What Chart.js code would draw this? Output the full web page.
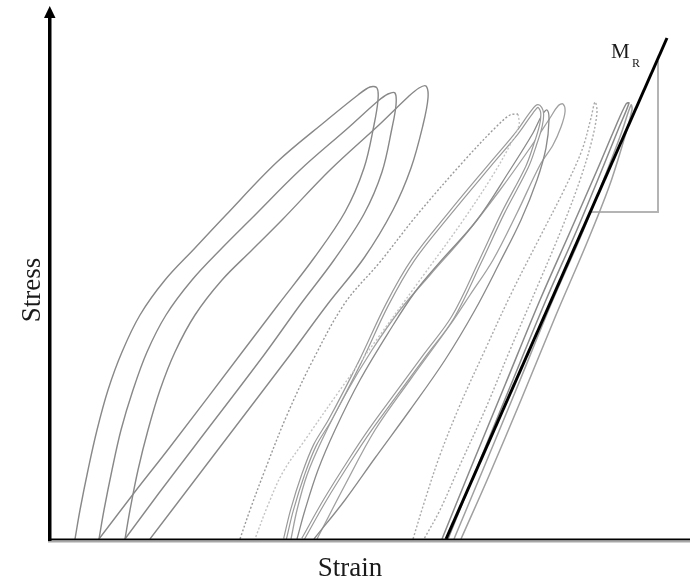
<!DOCTYPE html>
<html>
<head>
<meta charset="utf-8">
<script src="https://cdn.jsdelivr.net/npm/chart.js@4.4.0/dist/chart.umd.min.js"></script>
<style>
  html, body { margin: 0; padding: 0; background: #fff; }
  #wrap { width: 691px; height: 579px; }
</style>
</head>
<body>
<div id="wrap"><canvas id="chart" width="691" height="579"></canvas></div>
<script>
// axis texts
const xLabel = 'Strain';
const yLabel = 'Stress';
const modulusMain = 'M';
const modulusSub = 'R';

// axis ranges (schematic, arbitrary units)
const strainRange = [0, 640];
const stressRange = [0, 534];

// first group: three loops (arch up to the peak, then back down)
const loop1 = [[25,0],[30,29],[38,69],[47,109],[58,149],[72,187],[90,224],[115,259],[145,291],[175,323],[227,377],[277,419],[308,444],[320,452],[327,451],[328,439],[324,414],[314,371],[295,327],[264,281],[228,234],[190,184],[120,92],[84,46],[49,0]];
const loop2 = [[49,0],[54,29],[62,69],[71,109],[83,149],[97,187],[116,224],[142,259],[172,291],[202,321],[250,369],[298,411],[328,438],[338,445],[345,446],[346,434],[342,411],[332,367],[314,325],[284,279],[250,234],[214,184],[144,92],[109,46],[75,0]];
const loop3 = [[75,0],[80,29],[88,69],[98,109],[110,149],[125,187],[145,224],[172,259],[202,289],[232,319],[280,369],[330,415],[358,442],[369,451],[376,453],[378,441],[373,414],[361,371],[343,329],[314,281],[277,234],[240,184],[170,92],[135,46],[100,0]];

// second group
const midArchDotted = [[190,0],[200,29],[215,69],[237,124],[263,179],[295,236],[330,277],[367,324],[413,377],[445,411],[460,424],[468,425]];
const midLineDotted = [[468,425],[469,414],[460,394],[443,364],[412,317],[370,259],[330,204],[290,149],[255,99],[233,67],[218,34],[205,0]];
const midLoopA = [[235,0],[242,29],[253,64],[265,94],[280,119],[310,177],[337,234],[363,279],[400,326],[440,374],[467,406],[482,427],[488,433],[492,427],[491,414],[485,394],[477,372],[453,326],[430,277],[403,222],[375,184],[347,146],[320,109],[300,79],[275,39],[253,0]];
const midLoopB = [[247,0],[255,29],[268,69],[285,109],[310,159],[340,209],[365,247],[390,277],[427,319],[460,369],[483,406],[492,424],[497,429],[499,419],[496,391],[487,359],[471,319],[450,277],[425,229],[395,179],[360,129],[325,81],[295,39],[264,0]];
const midLoopS = [[241,0],[247,29],[257,64],[272,99],[295,144],[322,189],[350,229],[380,264],[415,304],[450,349],[480,391],[500,421],[508,433],[513,435],[515,427],[511,412],[503,394],[490,374],[467,326],[443,279],[420,244],[400,214],[360,159],[325,109],[295,54],[267,0]];

// third group
const rightLoopDotted = [[363,0],[375,39],[390,84],[410,134],[435,189],[462,247],[490,302],[515,351],[532,389],[541,421],[545,437],[547,427],[542,399],[530,359],[512,311],[488,254],[460,189],[435,129],[410,74],[390,29],[374,0]];
const rightLoop1 = [[392,0],[420,69],[455,154],[490,239],[520,307],[548,371],[565,411],[576,435],[579,436],[568,409],[551,367],[526,307],[496,239],[460,152],[426,69],[398,0]];
const rightLoop2 = [[404,0],[432,67],[466,149],[502,237],[531,303],[555,363],[571,405],[581,434],[582,429],[573,396],[559,352],[536,294],[506,224],[471,139],[438,61],[411,0]];
const modulusLine = [[396,0],[617,501]];
const modulusBracket = [[540,327],[608,327],[608,478]];

function pts(arr) {
    return arr.map(p => ({ x: p[0], y: p[1] }));
}

function curve(arr, color, width, dash, order, tension) {
    return {
        data: pts(arr),
        showLine: true,
        borderColor: color,
        borderWidth: width,
        borderDash: dash || [],
        pointRadius: 0,
        tension: tension === undefined ? 0.35 : tension,
        fill: false,
        order: order === undefined ? 1 : order
    };
}

// axes, arrow and labels
const axesPlugin = {
    id: 'axesPlugin',
    afterDatasetsDraw(chart) {
        const { ctx, chartArea: a } = chart;
        ctx.save();
        // horizontal axis (black with a gray shadow under it)
        ctx.fillStyle = '#000';
        ctx.fillRect(48, a.bottom - 0.5, a.right - 48, 2);
        ctx.fillStyle = '#a8a8a8';
        ctx.fillRect(48, a.bottom + 1.5, a.right - 48, 2);
        // vertical axis with arrow
        ctx.fillStyle = '#000';
        ctx.fillRect(a.left - 2, a.top + 10, 3.5, a.bottom - a.top - 8);
        ctx.beginPath();
        ctx.moveTo(a.left - 0.25, a.top + 1);
        ctx.lineTo(a.left - 6, a.top + 13);
        ctx.lineTo(a.left + 5.5, a.top + 13);
        ctx.closePath();
        ctx.fill();

        ctx.fillStyle = '#1a1a1a';
        ctx.font = '27px "Liberation Serif", "Times New Roman", serif';
        ctx.textAlign = 'center';
        ctx.textBaseline = 'alphabetic';
        ctx.fillText(xLabel, 350, 576);

        ctx.save();
        ctx.translate(40, 290);
        ctx.rotate(-Math.PI / 2);
        ctx.fillText(yLabel, 0, 0);
        ctx.restore();

        ctx.textAlign = 'left';
        ctx.font = '21px "Liberation Serif", "Times New Roman", serif';
        ctx.fillText(modulusMain, 611, 58);
        ctx.font = '12px "Liberation Serif", "Times New Roman", serif';
        ctx.fillText(modulusSub, 632, 67);
        ctx.restore();
    }
};

const gray = '#888888';

new Chart(document.getElementById('chart'), {
    type: 'scatter',
    data: {
        datasets: [
            curve(loop1, gray, 1.4),
            curve(loop2, gray, 1.4),
            curve(loop3, gray, 1.4),
            curve(midArchDotted, '#9a9a9a', 1.4, [2, 2]),
            curve(midLineDotted, '#c4c4c4', 1.4, [2, 2]),
            curve(midLoopA, '#9a9a9a', 4),
            curve(midLoopA, '#ffffff', 1.6, [], 0),
            curve(midLoopB, '#8a8a8a', 1.3),
            curve(midLoopS, '#a0a0a0', 1.3),
            curve(rightLoopDotted, '#aaaaaa', 1.4, [2, 2]),
            curve(rightLoop1, '#8a8a8a', 1.5),
            curve(rightLoop2, '#a0a0a0', 1.5),
            curve(modulusBracket, '#b4b4b4', 2, [], 1, 0),
            curve(modulusLine, '#000000', 3, [], 0, 0)
        ]
    },
    options: {
        responsive: false,
        animation: false,
        events: [],
        layout: { padding: { left: 50, right: 1, top: 5, bottom: 40 } },
        plugins: {
            legend: { display: false },
            tooltip: { enabled: false }
        },
        scales: {
            x: { type: 'linear', display: false, min: strainRange[0], max: strainRange[1] },
            y: { type: 'linear', display: false, min: stressRange[0], max: stressRange[1] }
        }
    },
    plugins: [axesPlugin]
});
</script>
</body>
</html>
